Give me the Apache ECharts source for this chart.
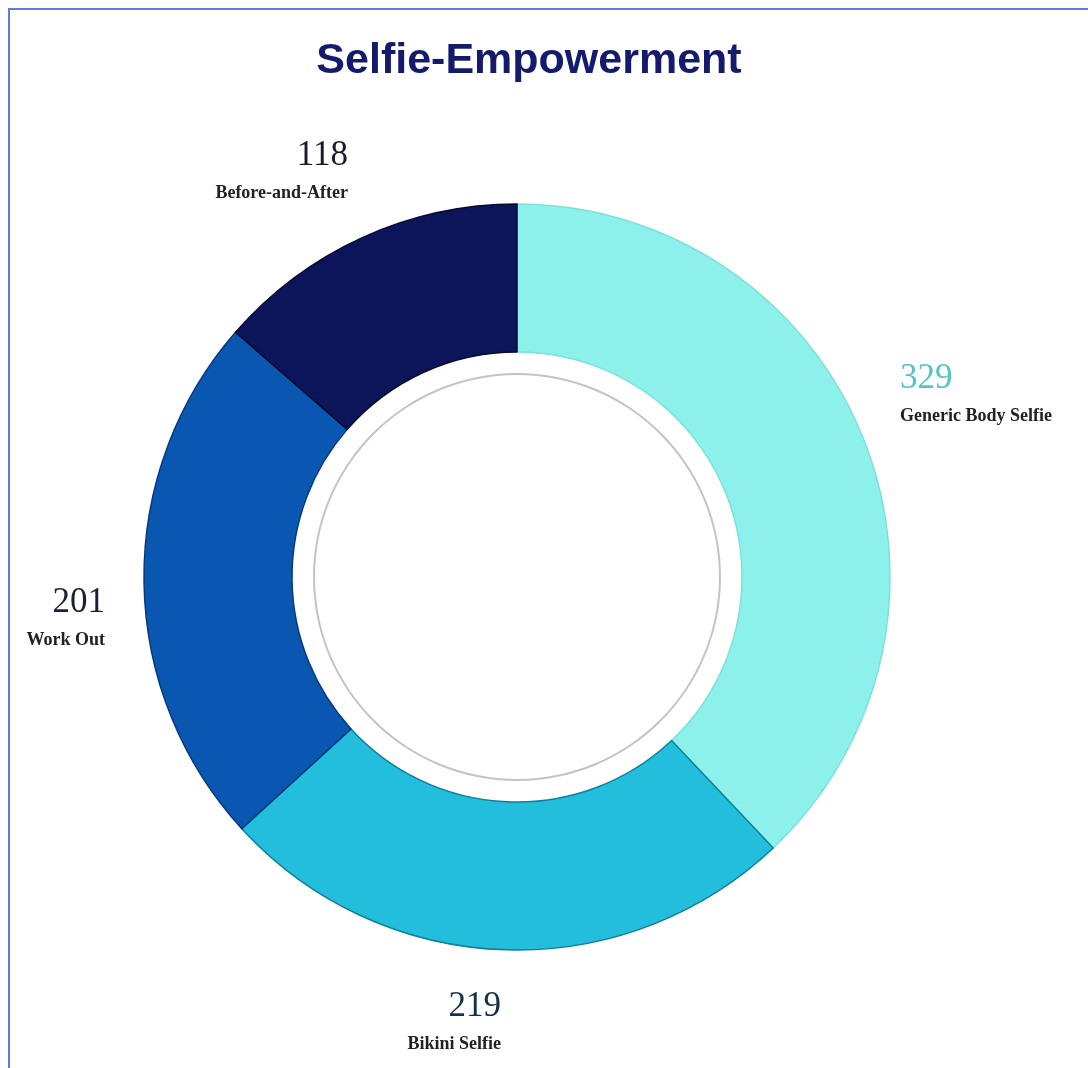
<!DOCTYPE html>
<html>
<head>
<meta charset="utf-8">
<title>Selfie-Empowerment</title>
<script src="https://cdn.jsdelivr.net/npm/echarts@6/dist/echarts.min.js"></script>
<style>
  html, body { margin: 0; padding: 0; background: #ffffff; }
  #frame {
    position: absolute; left: 8px; top: 8px; right: 0; bottom: 0;
    border-left: 2px solid #5b7fd8; border-top: 2px solid #5b7fd8;
  }
  #chart { position: absolute; left: 0; top: 0; width: 1088px; height: 1068px; }
</style>
</head>
<body>
<div id="frame"></div>
<div id="chart"></div>
<script>
// Post categories and counts, clockwise from 12 o'clock
const categories = ['Generic Body Selfie', 'Bikini Selfie', 'Work Out', 'Before-and-After'];
const counts = [329, 219, 201, 118];

// Slice styling
const sliceColors = ['#8cf1eb', '#22bedb', '#0a57b1', '#0c155a'];
const edgeColors = ['#7fe0da', '#0f7f9c', '#063a7c', '#050a30'];
const valueColors = ['#55c6be', '#15304a', '#16213a', '#1a1a2a'];

// Where each label block sits (anchor x, top y, alignment)
const labelSpots = [
  { x: 900, y: 358, align: 'left' },
  { x: 501, y: 986, align: 'right' },
  { x: 105, y: 582, align: 'right' },
  { x: 348, y: 135, align: 'right' }
];

const chart = echarts.init(document.getElementById('chart'), null, { renderer: 'canvas' });

const data = categories.map((name, i) => ({
  name: name,
  value: counts[i],
  itemStyle: { color: sliceColors[i], borderColor: edgeColors[i], borderWidth: 1.5 },
  label: {
    rich: {
      v: { fontFamily: 'Liberation Serif, Times New Roman, serif', fontSize: 35, lineHeight: 42, color: valueColors[i] },
      n: { fontFamily: 'Liberation Serif, Times New Roman, serif', fontSize: 18, fontWeight: 'bold', lineHeight: 32, color: '#222222' }
    }
  }
}));

chart.setOption({
  animation: false,
  backgroundColor: 'transparent',
  title: {
    text: 'Selfie-Empowerment',
    left: 524,
    textAlign: 'center',
    top: 35,
    textStyle: {
      fontFamily: 'Liberation Sans, Arial, sans-serif',
      fontSize: 43,
      fontWeight: 'bold',
      color: '#141a6c'
    }
  },
  series: [
    {
      type: 'pie',
      center: [517, 577],
      radius: [225, 373],
      startAngle: 90,
      clockwise: true,
      silent: true,
      label: {
        show: true,
        position: 'outside',
        formatter: p => '{v|' + p.value + '}\n{n|' + p.name + '}'
      },
      labelLine: { show: false },
      labelLayout: p => {
        const s = labelSpots[p.dataIndex];
        return { x: s.x, y: s.y, align: s.align, verticalAlign: 'top' };
      },
      data: data
    },
    {
      // thin grey ring inside the donut hole
      type: 'pie',
      center: [517, 577],
      radius: [202, 204],
      silent: true,
      label: { show: false },
      labelLine: { show: false },
      itemStyle: { color: '#c4c4c4' },
      data: [{ value: 1, name: 'ring' }]
    }
  ]
});
</script>
</body>
</html>
